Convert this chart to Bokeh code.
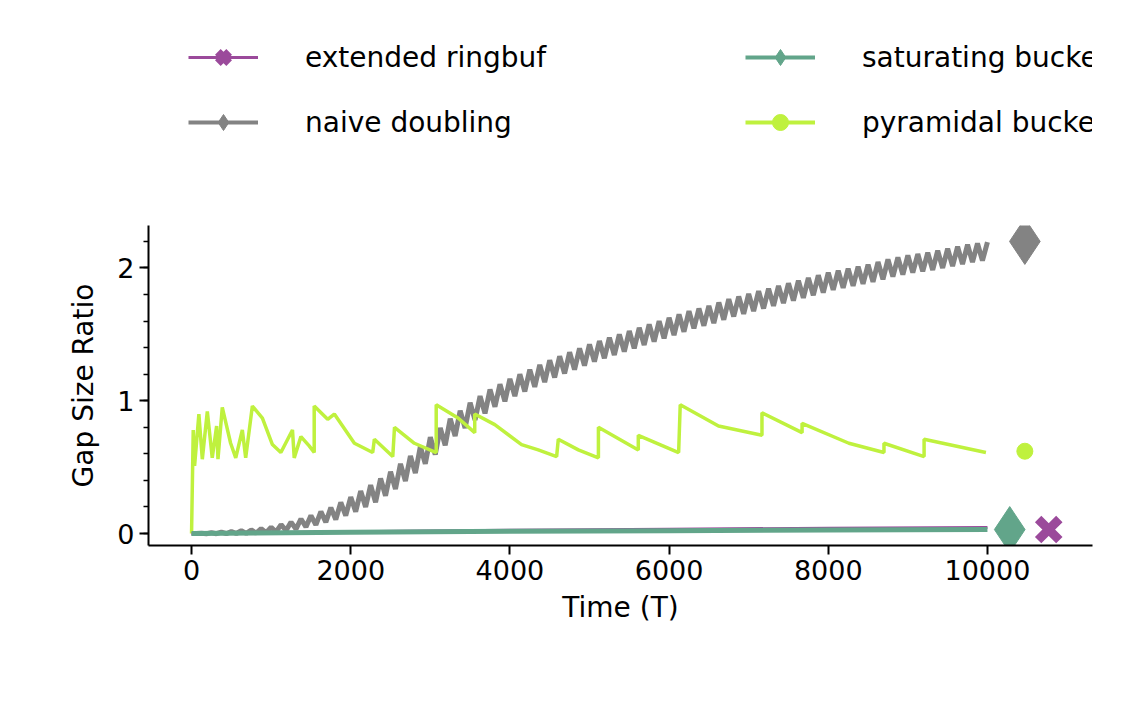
from bokeh.plotting import figure
from bokeh.models import Range1d, Legend, LegendItem, FixedTicker
from bokeh.layouts import column
from bokeh.embed import file_html
from bokeh.resources import INLINE

# naive doubling: midline and half-amplitude read every 125 T
gray_T = [i * 125 for i in range(81)]
gray_mid = [0, 0.001, 0.003, 0.005, 0.008, 0.011, 0.015, 0.022, 0.03, 0.045, 0.06, 0.08, 0.10, 0.125, 0.15,
            0.185, 0.22, 0.26, 0.30, 0.35, 0.40, 0.46, 0.52, 0.59, 0.66, 0.73, 0.80, 0.86, 0.92, 0.97, 1.02,
            1.06, 1.10, 1.135, 1.17, 1.205, 1.24, 1.27, 1.30, 1.33, 1.36, 1.385, 1.41, 1.435, 1.46, 1.485,
            1.51, 1.535, 1.56, 1.585, 1.61, 1.63, 1.65, 1.675, 1.70, 1.72, 1.74, 1.76, 1.78, 1.80, 1.82, 1.84,
            1.86, 1.88, 1.90, 1.915, 1.93, 1.945, 1.96, 1.98, 2.0, 2.015, 2.03, 2.04, 2.05, 2.065, 2.08,
            2.095, 2.11, 2.12, 2.13]
gray_amp = [0.0, 0.002, 0.004, 0.006, 0.008, 0.01, 0.012, 0.015, 0.018, 0.022, 0.026, 0.03, 0.035, 0.04,
            0.045, 0.05, 0.055, 0.06] + [0.065] * 63

# pyramidal bucket (T, ratio)
pyr_T = [0, 21, 38, 92, 135, 198, 260, 315, 332, 386, 491, 555, 638, 680, 764, 890, 1016, 1122, 1268, 1290,
         1374, 1478, 1541, 1541, 1710, 1794, 2046, 2276, 2297, 2528, 2550, 2800, 3074, 3074, 3348, 3558,
         3558, 3810, 4146, 4356, 4587, 4608, 4860, 5112, 5112, 5613, 5613, 6120, 6140, 6621, 7167, 7167,
         7671, 7671, 8259, 8700, 8700, 9204, 9204, 9981]
pyr_y = [0.0, 0.78, 0.51, 0.90, 0.56, 0.92, 0.57, 0.81, 0.56, 0.95, 0.68, 0.57, 0.78, 0.57, 0.96, 0.87,
         0.67, 0.61, 0.78, 0.57, 0.73, 0.66, 0.61, 0.96, 0.86, 0.90, 0.68, 0.61, 0.71, 0.58, 0.80, 0.68,
         0.61, 0.97, 0.87, 0.76, 0.90, 0.82, 0.67, 0.63, 0.58, 0.71, 0.63, 0.57, 0.80, 0.63, 0.74, 0.61,
         0.97, 0.81, 0.74, 0.91, 0.76, 0.83, 0.68, 0.61, 0.68, 0.58, 0.71, 0.61]

ring_T = [0, 2000, 4000, 6000, 8000, 10000]
ring_y = [0.0, 0.014, 0.025, 0.033, 0.04, 0.046]
sat_T = [0, 2000, 4000, 6000, 8000, 10000]
sat_y = [0.0, 0.01, 0.017, 0.022, 0.026, 0.03]

# end markers
end_ring = (10770, 0.03)
end_naive = (10470, 2.2)
end_sat = (10280, 0.03)
end_pyr = (10470, 0.62)

C_RING, C_NAIVE, C_SAT, C_PYR = "#9b4a9b", "#838383", "#62a58a", "#bff13e"

p = figure(width=1119, height=508, output_backend="svg", toolbar_location=None,
           x_range=Range1d(-541, 11320), y_range=Range1d(-0.09, 2.32),
           min_border_left=148, min_border_right=27, min_border_top=35, min_border_bottom=153)
p.grid.visible = False
p.outline_line_color = None

gx, gy = [], []
for t, m, a in zip(gray_T, gray_mid, gray_amp):
    gx += [t, t + 62]
    gy += [m + a, m - a]
gx, gy = gx[:-1], gy[:-1]

p.line(gx, gy, line_color=C_NAIVE, line_width=5)
p.line(pyr_T, pyr_y, line_color=C_PYR, line_width=3.5)
p.line(ring_T, ring_y, line_color=C_RING, line_width=3)
p.line(sat_T, sat_y, line_color=C_SAT, line_width=5)

p.scatter([end_ring[0]], [end_ring[1]], marker="x", size=30, line_color=C_RING, line_width=9)
p.scatter([end_naive[0]], [end_naive[1]], marker="diamond", size=46, color=C_NAIVE)
p.scatter([end_sat[0]], [end_sat[1]], marker="diamond", size=46, color=C_SAT)
p.scatter([end_pyr[0]], [end_pyr[1]], marker="circle", size=16, color=C_PYR)

p.xaxis.ticker = FixedTicker(ticks=[0, 2000, 4000, 6000, 8000, 10000])
p.yaxis.ticker = FixedTicker(ticks=[0, 1, 2], minor_ticks=[i * 0.2 for i in range(12)])
p.xaxis.axis_label = "Time (T)"
p.yaxis.axis_label = "Gap Size Ratio"
for ax in (p.xaxis, p.yaxis):
    ax.axis_label_text_font = "DejaVu Sans"
    ax.axis_label_text_font_style = "normal"
    ax.axis_label_text_font_size = "28px"
    ax.axis_label_text_color = "black"
    ax.major_label_text_font = "DejaVu Sans"
    ax.major_label_text_font_size = "27px"
    ax.major_label_text_color = "black"
    ax.axis_line_width = 2
    ax.major_tick_line_width = 2
    ax.major_tick_out = 9
    ax.major_tick_in = 0
    ax.minor_tick_out = 5
    ax.minor_tick_in = 0
    ax.minor_tick_line_width = 1.5
p.xaxis.minor_tick_line_color = None
p.yaxis.major_label_orientation = "horizontal"
p.xaxis.axis_label_standoff = 8
p.yaxis.axis_label_standoff = 14

# legend figure
lf = figure(width=1119, height=190, output_backend="svg", toolbar_location=None,
            x_range=Range1d(0, 1), y_range=Range1d(0, 1),
            min_border=0, min_border_left=0, min_border_right=0, min_border_top=0, min_border_bottom=0)
lf.axis.visible = False
lf.grid.visible = False
lf.outline_line_color = None

lr = lf.line([-9, -9], [0, 0], line_color=C_RING, line_width=3)
lrm = lf.scatter([-9], [0], marker="x", size=22, line_color=C_RING, line_width=8)
ln = lf.line([-9, -9], [0, 0], line_color=C_NAIVE, line_width=4)
lnm = lf.scatter([-9], [0], marker="diamond", size=40, color=C_NAIVE)
ls = lf.line([-9, -9], [0, 0], line_color=C_SAT, line_width=4)
lsm = lf.scatter([-9], [0], marker="diamond", size=40, color=C_SAT)
lp = lf.line([-9, -9], [0, 0], line_color=C_PYR, line_width=4)
lpm = lf.scatter([-9], [0], marker="circle", size=14, color=C_PYR)

def mk_legend(items, loc):
    lg = Legend(items=items, location=loc, border_line_color=None, background_fill_alpha=0,
                label_text_font_size="28px", label_text_font="DejaVu Sans", label_text_color="black",
                glyph_width=70, glyph_height=40, label_standoff=47, spacing=25, padding=0, margin=0,
                label_height=40)
    lf.add_layout(lg, "center")

mk_legend([LegendItem(label="extended ringbuf", renderers=[lr, lrm]),
           LegendItem(label="naive doubling", renderers=[ln, lnm])], (40, 48))
mk_legend([LegendItem(label="saturating bucket", renderers=[ls, lsm]),
           LegendItem(label="pyramidal bucket", renderers=[lp, lpm])], (597, 48))

open("out.html", "w").write(file_html(column(lf, p, spacing=0), INLINE))
